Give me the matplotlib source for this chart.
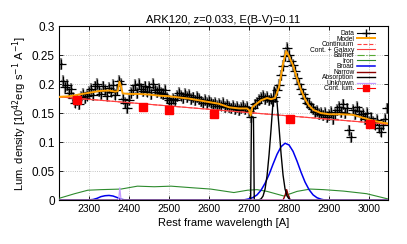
import matplotlib.pyplot as plt
from matplotlib.lines import Line2D

plt.rcParams['font.family'] = ['Liberation Sans', 'DejaVu Sans']

# observed spectrum, 5 A sampling
wave = list(range(2230, 3050, 5))
flux = [0.235, 0.205, 0.195, 0.198, 0.185, 0.192, 0.176, 0.168, 0.172, 0.165,
        0.178, 0.183, 0.176, 0.180, 0.186, 0.192, 0.181, 0.196, 0.200, 0.188,
        0.183, 0.196, 0.190, 0.180, 0.193, 0.187, 0.199, 0.182, 0.190, 0.205,
        0.200, 0.175, 0.168, 0.158, 0.172, 0.185, 0.190, 0.198, 0.185, 0.200,
        0.192, 0.188, 0.196, 0.187, 0.195, 0.183, 0.200, 0.190, 0.186, 0.192,
        0.185, 0.183, 0.190, 0.176, 0.172, 0.168, 0.175, 0.172, 0.179, 0.185,
        0.180, 0.176, 0.183, 0.178, 0.181, 0.174, 0.177, 0.172, 0.178, 0.174,
        0.170, 0.168, 0.173, 0.167, 0.171, 0.168, 0.165, 0.167, 0.162, 0.166,
        0.163, 0.168, 0.161, 0.164, 0.160, 0.158, 0.163, 0.157, 0.160, 0.155,
        0.159, 0.162, 0.157, 0.160, 0.153, 0.143, 0.158, 0.165, 0.168, 0.173,
        0.176, 0.180, 0.174, 0.178, 0.172, 0.175, 0.170, 0.178, 0.190, 0.198,
        0.215, 0.232, 0.248, 0.262, 0.250, 0.240, 0.233, 0.222, 0.210, 0.200,
        0.192, 0.183, 0.176, 0.168, 0.165, 0.160, 0.157, 0.152, 0.154, 0.148,
        0.150, 0.146, 0.150, 0.143, 0.147, 0.152, 0.140, 0.148, 0.155, 0.160,
        0.152, 0.165, 0.150, 0.158, 0.120, 0.108, 0.155, 0.148, 0.160, 0.153,
        0.145, 0.148, 0.140, 0.150, 0.135, 0.142, 0.135, 0.130, 0.138, 0.125,
        0.118, 0.130, 0.140, 0.158]
flux_err = 0.01

# best fit model
model_w = [2225, 2250, 2275, 2300, 2325, 2350, 2365, 2372, 2376, 2380, 2384,
           2400, 2425, 2450, 2475, 2500, 2525, 2550, 2575, 2600, 2625, 2650,
           2675, 2695, 2700, 2704, 2708, 2715, 2730, 2745, 2755, 2765, 2775,
           2785, 2793, 2800, 2810, 2820, 2830, 2840, 2850, 2862, 2880, 2900,
           2930, 2960, 2985, 3010, 3030, 3047]
model_f = [0.178, 0.179, 0.182, 0.185, 0.188, 0.189, 0.187, 0.188, 0.204, 0.196, 0.184,
           0.183, 0.183, 0.182, 0.180, 0.179, 0.177, 0.175, 0.172, 0.169, 0.166, 0.160,
           0.158, 0.158, 0.155, 0.146, 0.160, 0.164, 0.172, 0.176, 0.174, 0.176, 0.195,
           0.235, 0.257, 0.248, 0.232, 0.210, 0.190, 0.174, 0.163, 0.155, 0.150, 0.148,
           0.148, 0.147, 0.142, 0.137, 0.134, 0.132]

# power-law continuum (and continuum + galaxy, identical here)
cont_w = [2225, 3047]
cont_f = [0.178, 0.131]

# iron template
iron_w = [2225, 2264, 2297, 2330, 2380, 2421, 2463, 2505, 2563, 2604, 2662,
          2696, 2720, 2745, 2787, 2820, 2853, 2886, 2936, 2994, 3047]
iron_f = [0.003, 0.011, 0.017, 0.018, 0.019, 0.024, 0.023, 0.024, 0.021, 0.019, 0.013,
          0.017, 0.018, 0.015, 0.007, 0.015, 0.019, 0.018, 0.0155, 0.011, 0.002]

# broad components
broad_w = [2225, 2295, 2310, 2320, 2330, 2340, 2350, 2360, 2370, 2380, 2392,
           2680, 2690, 2700, 2710, 2720, 2730, 2740, 2750, 2760, 2770, 2780,
           2790, 2800, 2810, 2820, 2830, 2840, 2850, 2860, 2870, 2880, 2890, 3047]
broad_f = [0.0, 0.0, 0.001, 0.003, 0.006, 0.0075, 0.008, 0.007, 0.0045, 0.0015, 0.0,
           0.0, 0.0007, 0.002, 0.0045, 0.009, 0.017, 0.029, 0.044, 0.062, 0.079, 0.092,
           0.098, 0.095, 0.084, 0.067, 0.048, 0.031, 0.018, 0.009, 0.004, 0.0015, 0.0, 0.0]

# narrow component
narrow_w = [2225, 2785, 2790, 2794, 2798, 2803, 3047]
narrow_f = [0.0, 0.0, 0.008, 0.018, 0.008, 0.0, 0.0]

# absorption / extra lines
absn_w = [2225, 2704, 2706, 2711, 2713, 2725, 2730, 2735, 2740, 2745, 2750, 2755,
          2760, 2763, 2766, 2770, 2775, 2780, 2785, 2790, 2795, 2800, 2805, 3047]
absn_f = [0.0, 0.0, 0.143, 0.143, 0.0, 0.0005, 0.002, 0.007, 0.019, 0.042, 0.078, 0.122,
          0.170, 0.195, 0.190, 0.168, 0.125, 0.080, 0.043, 0.019, 0.007, 0.002, 0.0, 0.0]

# unknown line
unk_w = [2225, 2374, 2377, 2380, 3047]
unk_f = [0.0, 0.0, 0.021, 0.0, 0.0]

# continuum luminosity estimates
clum_w = [2270, 2436, 2500, 2612, 2802, 3003]
clum_f = [0.172, 0.161, 0.156, 0.149, 0.1395, 0.131]

fig = plt.figure(figsize=(4.07, 2.44), dpi=100)
ax = fig.add_axes([0.145, 0.18, 0.808, 0.713])

ax.errorbar(wave, flux, yerr=flux_err, xerr=4, fmt='none', ecolor='#8c8c8c',
            elinewidth=1.6, zorder=2)
ax.plot(wave, flux, '+', color='black', ms=7, mew=0.9, zorder=3)
ax.plot(cont_w, cont_f, '--', color='#ff4040', lw=0.8, zorder=4)
ax.plot(cont_w, cont_f, '-', color='#ff4040', lw=0.8, zorder=4)
ax.plot(cont_w, [0, 0], '-.', color='#55aa33', lw=0.8, zorder=4)
ax.plot(iron_w, iron_f, '-', color='#2e8b2e', lw=0.8, zorder=4)
ax.plot(broad_w, broad_f, '-', color='#0000ee', lw=1.1, zorder=4)
ax.plot(narrow_w, narrow_f, '-', color='#8b0000', lw=1.0, zorder=4)
ax.plot(absn_w, absn_f, '-', color='black', lw=1.0, zorder=4)
ax.plot(unk_w, unk_f, '-', color='#c39bff', lw=0.9, zorder=4)
ax.plot(model_w, model_f, '-', color='#ffa000', lw=1.4, zorder=5)
ax.plot(clum_w, clum_f, 's', color='red', ms=5.5, zorder=6)

ax.set_xlim(2225, 3047)
ax.set_ylim(0, 0.3)
ax.set_xticks([2300, 2400, 2500, 2600, 2700, 2800, 2900, 3000])
ax.set_yticks([0, 0.05, 0.1, 0.15, 0.2, 0.25, 0.3])
ax.set_yticklabels(['0', '0.05', '0.1', '0.15', '0.2', '0.25', '0.3'])
ax.tick_params(direction='in', top=True, right=True, labelsize=7.5, length=3, width=0.6, pad=3)
ax.tick_params(axis='y', labelsize=8.5)
ax.grid(True, linestyle=':', color='#b0b0b0', lw=0.6)
for s in ax.spines.values():
    s.set_linewidth(0.8)

ax.set_title('ARK120, z=0.033, E(B-V)=0.11', fontsize=8, pad=2)
ax.set_xlabel('Rest frame wavelength [A]', fontsize=8, labelpad=3)
ax.set_ylabel('Lum. density [10$^{42}$erg s$^{-1}$ A$^{-1}$]', fontsize=8, labelpad=2)

handles = [
    Line2D([], [], color='black', marker='+', ms=6, lw=0.8),
    Line2D([], [], color='#ffa000', lw=1.4),
    Line2D([], [], color='#ff4040', ls='--', lw=0.8),
    Line2D([], [], color='#ff4040', lw=0.8),
    Line2D([], [], color='#55aa33', ls='-.', lw=0.8),
    Line2D([], [], color='#2e8b2e', lw=0.8),
    Line2D([], [], color='#0000ee', lw=1.1),
    Line2D([], [], color='#8b0000', lw=1.0),
    Line2D([], [], color='black', lw=1.0),
    Line2D([], [], color='#c39bff', lw=0.9),
    Line2D([], [], color='red', marker='s', ms=5, lw=0.8),
]
labels = ['Data', 'Model', 'Continuum', 'Cont. + Galaxy', 'Balmer', 'Iron',
          'Broad', 'Narrow', 'Absorption', 'Unknown', 'Cont. lum.']
ax.legend(handles, labels, loc='upper right', bbox_to_anchor=(0.972, 1.0),
          fontsize=4.8, frameon=False, markerfirst=False, labelspacing=-0.22,
          handlelength=2.7, handletextpad=0.35, borderpad=0.1)

fig.savefig('out.png', dpi=100)
